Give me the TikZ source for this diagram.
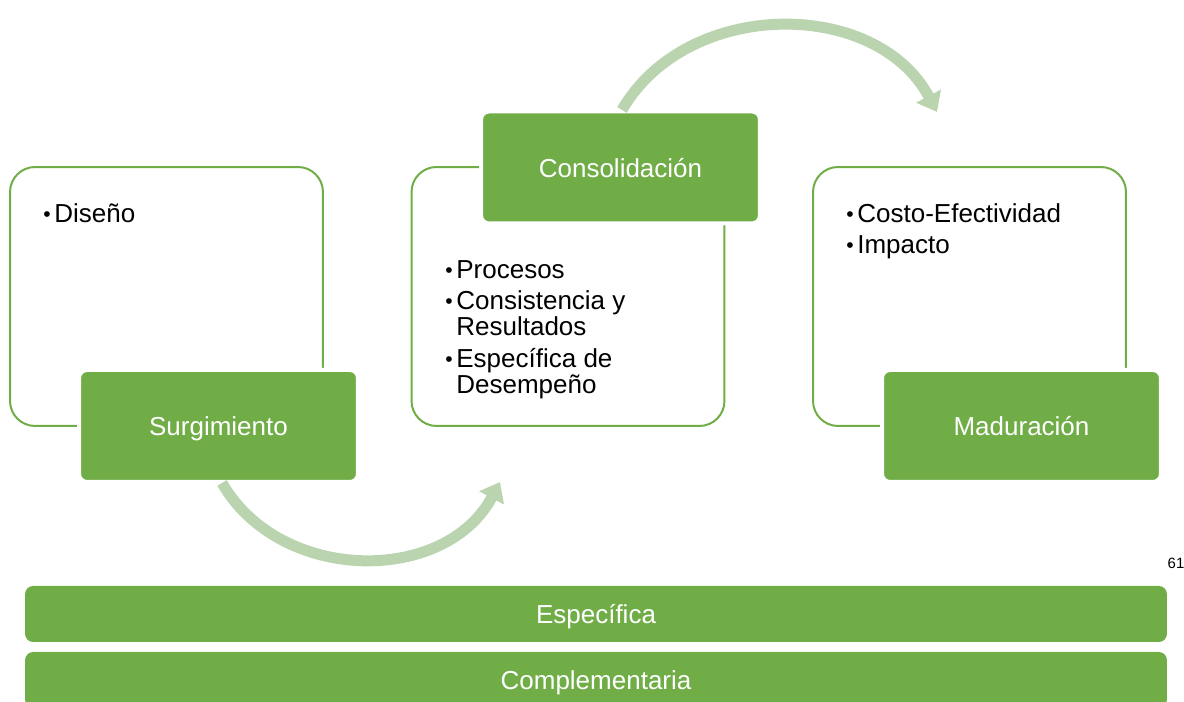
\documentclass[tikz,border=0pt]{standalone}
\usepackage{fontspec}
\setmainfont{Liberation Sans}
\usetikzlibrary{arrows.meta}
\definecolor{hoja}{HTML}{70AD47}
\definecolor{flecha}{RGB}{187,212,176}
\newcommand{\punto}{\makebox[0.22cm][l]{\raisebox{0.6pt}{\fontsize{12}{15}\selectfont\textbullet}}}
\newcommand{\sangria}{\hspace*{0.22cm}}

\begin{document}
\begin{tikzpicture}[x=0.02cm,y=0.02cm,
	marco/.style={draw=hoja,line width=0.04cm,rounded corners=0.5cm,minimum width=6.26cm,minimum height=5.18cm},
	etiqueta/.style={fill=hoja,draw=white,line width=0.08cm,rounded corners=0.16cm,minimum width=5.58cm,minimum height=2.24cm,text=white,text height=11pt,text depth=0pt,font=\fontsize{14.8}{15}\selectfont},
	lista/.style={anchor=north west,inner sep=0pt,align=left,font=\fontsize{14.8}{15}\selectfont},
	barra/.style={fill=hoja,rounded corners=0.16cm,minimum width=22.84cm,minimum height=1.12cm,text=white,text height=11pt,text depth=0pt,font=\fontsize{14.8}{15}\selectfont},
	flujo/.style={draw=flecha,line width=0.22cm,-{Triangle[width=0.54cm,length=0.36cm]}}]
	\useasboundingbox (0,0) rectangle (1184,702);
	% marcos de cada etapa
	\node[marco] (m1) at (166.5,405.5) {};
	\node[marco] (m2) at (568,405.5) {};
	\node[marco] (m3) at (969.5,405.5) {};
	\node[lista] (l1) at (43,499) {\punto Diseño};
	\node[lista] (l2) at (445,442) {\punto Procesos\\[2.8pt]
		\punto Consistencia y\\ \sangria Resultados\\[2.8pt]
		\punto Específica de\\ \sangria Desempeño};
	\node[lista] (l3) at (846,499) {\punto Costo-Efectividad\\[2.8pt] \punto Impacto};
	% etiquetas
	\node[etiqueta] (surg) at (218.5,276) {Surgimiento};
	\node[etiqueta] (cons) at (620.5,534.5) {Consolidación};
	\node[etiqueta] (madu) at (1021.5,276) {Maduración};
	% flechas
	\coordinate (f1a) at (222,219);
	\coordinate (f1b) at (500,220);
	\coordinate (f2a) at (622,592);
	\coordinate (f2b) at (937,590);
	\draw[flujo] (f1a) to[out=-60,in=242,looseness=1.07] (f1b);
	\draw[flujo] (f2a) to[out=60,in=118,looseness=1.05] (f2b);
	% barras inferiores
	\node (pag) at (1176,139) {\fontsize{8.5}{10}\selectfont 61};
	\node[barra] (esp) at (596,88) {Específica};
	\node[barra] (comp) at (596,22) {Complementaria};
\end{tikzpicture}
\end{document}
